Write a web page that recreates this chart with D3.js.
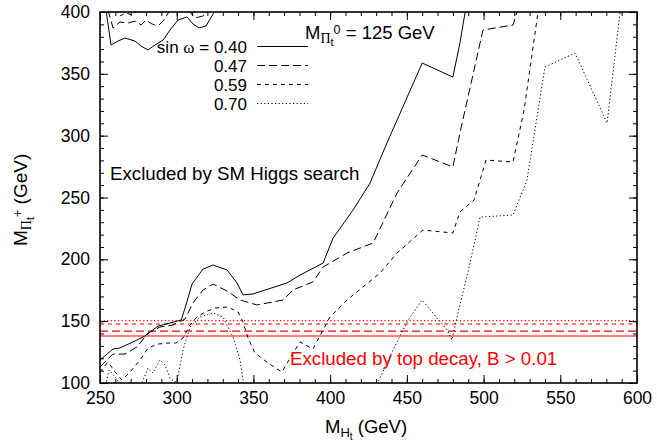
<!DOCTYPE html>
<html>
<head>
<meta charset="utf-8">
<script src="https://cdn.jsdelivr.net/npm/d3@7"></script>
<style>
body { margin: 0; background: #fff; }
text { font-family: "Liberation Sans", Arial, Helvetica, sans-serif; }
.greek { font-family: "Liberation Serif", "DejaVu Serif", serif; }
</style>
</head>
<body>
<div id="chart"></div>
<script>
// tick values
const xTicks = [250, 300, 350, 400, 450, 500, 550, 600];
const yTicks = [100, 150, 200, 250, 300, 350, 400];
const xMinor = d3.range(250, 601, 10);
const yMinor = d3.range(100, 401, 10);

// legend
const sinValues = ['0.40', '0.47', '0.59', '0.70'];
// top decay limits, B > 0.01 (one per sin w)
const topDecayLimits = [138, 142, 147.7, 150.5];

// contours, [M_Ht, M_Pi+]
const sin040 = [[250,118.6],[258.5,127.5],[263,128.3],[271.5,133.2],[279.3,138],[287.8,146],[295.6,148.5],
  [303,151],[306,163],[310,180],[317,192],[323.7,195.4],[332.8,191.4],[339.3,180.9],[343.2,171.2],[349.7,172],
  [371.9,180.9],[380.4,187.3],[395.4,197],[401.9,217.2],[415,240],[426,261.7],[437,294],[460,358.7],
  [480,347.4],[484.6,375],[488,400],[489,410]];
const sin040Corner = [[253.9,401.6],[257.2,373.3],[261.7,376.5],[266.3,379],[272.8,376.5],[276.7,372.5],
  [281.3,369.3],[285.8,373.3],[291.1,377.3],[295.6,385.4],[300.8,393.5],[306.7,396],[310.6,390.3],
  [314.5,387.1],[319.1,388.7],[323.7,398.4],[325.6,403.2]];

const sin047 = [[250,113],[258.5,123.4],[266.3,123.4],[274.1,129.1],[281.3,140.4],[289.1,145.3],[297.6,146.9],
  [305.4,151.7],[310.6,164.7],[317.1,175.2],[323.7,180],[332.8,174.4],[341.3,167.1],[352.3,163.1],[369.3,167.1],
  [375.8,175.2],[388.8,181.7],[395.4,193.8],[411,205.1],[428,213.2],[443.6,253.6],[460,284.4],[480,274.7],
  [484.6,302.2],[499.6,385.4],[519.2,389.5],[521.8,400],[522.5,405]];
const sin047Corner = [[255.2,401.6],[258.5,387.1],[263,391.9],[268.3,391.1],[272.8,392.7],[276.7,389.5],
  [280,393.5],[283.9,390.3],[287.8,388.7],[291.7,393.5],[295.6,401.6]];
const sin047Corner2 = [[307.4,401.6],[311.9,395.1],[317.1,396.8],[321.7,401.6]];

const sin059 = [[250,108.9],[255.2,117],[259.8,108.9],[264.3,102.4],[269.6,108.9],[276.1,118.6],[281.3,128.3],
  [287.8,131.5],[294.3,132.3],[299.5,132.3],[304.1,136.4],[308.7,146.9],[312.6,152.6],[318.4,157.4],[325,160.6],
  [333.4,161.5],[340,157.4],[343.2,149.3],[346.5,136.4],[351,124.3],[359.5,116.2],[368.6,108.9],[375.1,122.6],
  [380.4,133.2],[388.8,127.5],[395.4,142.9],[399.9,153.4],[411,167.1],[421.4,177.6],[432.5,188.9],[443.6,205.1],
  [460.5,223.7],[480,221.3],[484.6,238.3],[493.8,248],[501.6,280.3],[519.2,278.7],[526.4,320.7],[535.5,400],
  [536.1,405.6]];
const sin059Corner = [[259.8,401.6],[263,396.8],[266.9,399.2],[270.9,397.6],[274.8,401.6]];

const sin070 = [[252.6,92.7],[255.9,110.5],[260.4,104],[265.6,94.3],[274.8,92.7],[281.3,112.1],[284.5,108.1],
  [289.1,118.6],[292.4,114.6],[295.6,104],[298.9,100.8],[300.8,104.9],[304.1,126.7],[308.7,145.3],[315.2,153.4],
  [323.7,156.6],[330.2,153.4],[336.7,137.2],[341.3,118.6],[343.2,102.4],[344.5,90.3]];
const sin070Right = [[429.9,90.3],[431.2,100.8],[441,126.7],[450.8,150.9],[459.9,167.1],[469.7,152.6],
  [476.2,142.9],[479.4,134.8],[483.3,156.6],[491.2,197],[497.7,234.2],[519.2,235.8],[528.3,264.1],[540,355.5],
  [559.6,366.8],[580.5,310.2],[588.9,399.2],[590.2,407.3]];

const dashes = ['none', '8,4', '4,4', '1.2,2.4'];

const svg_width = 657, svg_height = 445;
const margin = {top: 12, right: 20, bottom: 62, left: 100};
const chart_width = svg_width - margin.left - margin.right;
const chart_height = svg_height - margin.top - margin.bottom;

const svg = d3.select('#chart').append('svg')
  .attr('width', svg_width).attr('height', svg_height);
const g = svg.append('g').attr('transform', `translate(${margin.left},${margin.top})`);

const x = d3.scaleLinear().domain([250, 600]).range([0, chart_width]);
const y = d3.scaleLinear().domain([100, 400]).range([chart_height, 0]);

g.append('clipPath').attr('id', 'clip')
  .append('rect').attr('width', chart_width).attr('height', chart_height);

const line = d3.line().x(d => x(d[0])).y(d => y(d[1]));
const curves = g.append('g').attr('clip-path', 'url(#clip)');

// red top-decay limits
topDecayLimits.forEach((v, i) => {
  curves.append('line')
    .attr('x1', 0).attr('x2', chart_width)
    .attr('y1', y(v)).attr('y2', y(v))
    .attr('stroke', '#ff0000').attr('stroke-width', 1.2)
    .attr('stroke-dasharray', dashes[i]);
});

const series = [
  [sin040, 0], [sin040Corner, 0],
  [sin047, 1], [sin047Corner, 1], [sin047Corner2, 1],
  [sin059, 2], [sin059Corner, 2],
  [sin070, 3], [sin070Right, 3]
];
series.forEach(([data, k]) => {
  curves.append('path').datum(data)
    .attr('d', line)
    .attr('fill', 'none').attr('stroke', '#000').attr('stroke-width', 1)
    .attr('stroke-dasharray', dashes[k]);
});

// axes, ticks pointing inward
function styleAxis(sel) {
  sel.select('.domain').remove();
  sel.selectAll('line').attr('stroke', '#000').attr('stroke-width', 1);
  sel.selectAll('text').style('font-size', '17.5px').attr('fill', '#000');
}
g.append('g').attr('transform', `translate(0,${chart_height})`)
  .call(d3.axisBottom(x).tickValues(xTicks).tickSize(-8).tickPadding(9).tickFormat(d3.format('d')))
  .call(styleAxis);
g.append('g').attr('transform', `translate(0,${chart_height})`)
  .call(d3.axisBottom(x).tickValues(xMinor).tickSize(-4).tickFormat('')).call(styleAxis);
g.append('g')
  .call(d3.axisTop(x).tickValues(xTicks).tickSize(-8).tickFormat('')).call(styleAxis);
g.append('g')
  .call(d3.axisTop(x).tickValues(xMinor).tickSize(-4).tickFormat('')).call(styleAxis);
g.append('g')
  .call(d3.axisLeft(y).tickValues(yTicks).tickSize(-8).tickPadding(10).tickFormat(d3.format('d')))
  .call(styleAxis);
g.append('g')
  .call(d3.axisLeft(y).tickValues(yMinor).tickSize(-4).tickFormat('')).call(styleAxis);
g.append('g').attr('transform', `translate(${chart_width},0)`)
  .call(d3.axisRight(y).tickValues(yTicks).tickSize(-8).tickFormat('')).call(styleAxis);
g.append('g').attr('transform', `translate(${chart_width},0)`)
  .call(d3.axisRight(y).tickValues(yMinor).tickSize(-4).tickFormat('')).call(styleAxis);

g.append('rect').attr('width', chart_width).attr('height', chart_height)
  .attr('fill', 'none').attr('stroke', '#000').attr('stroke-width', 1.6);

// legend
const legend = g.append('g');
sinValues.forEach((s, i) => {
  const ly = 34.5 + i * 19;
  const t = legend.append('text').attr('x', 147).attr('y', ly + 6)
    .attr('text-anchor', 'end').style('font-size', '17px');
  if (i === 0) {
    t.append('tspan').text('sin ');
    t.append('tspan').attr('class', 'greek').text('ω');
    t.append('tspan').text(' = ' + s);
  } else {
    t.text(s);
  }
  legend.append('line').attr('x1', 157).attr('x2', 208)
    .attr('y1', ly).attr('y2', ly)
    .attr('stroke', '#000').attr('stroke-width', 1)
    .attr('stroke-dasharray', dashes[i]);
});

// M_Pi0 label
const mlab = g.append('text').attr('x', 205).attr('y', 27)
  .style('font-size', '18.5px');
mlab.append('tspan').text('M');
mlab.append('tspan').attr('class', 'greek').attr('dy', 4).style('font-size', '14px').text('Π');
mlab.append('tspan').attr('dy', 3).style('font-size', '11px').text('t');
mlab.append('tspan').attr('dy', -12).style('font-size', '12.5px').text('0');
mlab.append('tspan').attr('dy', 5).text(' = 125 GeV');

// annotations
g.append('text').attr('x', 10).attr('y', 168)
  .style('font-size', '18.7px').text('Excluded by SM Higgs search');
g.append('text').attr('x', 190).attr('y', 353)
  .style('font-size', '18.7px').attr('fill', '#ff0000').text('Excluded by top decay, B > 0.01');

// axis titles
const xl = svg.append('text').attr('x', 325).attr('y', 433).style('font-size', '18.5px');
xl.append('tspan').text('M');
xl.append('tspan').attr('dy', 4).style('font-size', '13px').text('H');
xl.append('tspan').attr('dy', 3).style('font-size', '10px').text('t');
xl.append('tspan').attr('dy', -7).text(' (GeV)');

const yl = svg.append('text').attr('transform', 'translate(27,246) rotate(-90)').style('font-size', '19px');
yl.append('tspan').text('M');
yl.append('tspan').attr('class', 'greek').attr('dy', 4).style('font-size', '14px').text('Π');
yl.append('tspan').attr('dy', 3).style('font-size', '11px').text('t');
yl.append('tspan').attr('dy', -12).style('font-size', '12.5px').text('+');
yl.append('tspan').attr('dy', 5).text(' (GeV)');
</script>
</body>
</html>
